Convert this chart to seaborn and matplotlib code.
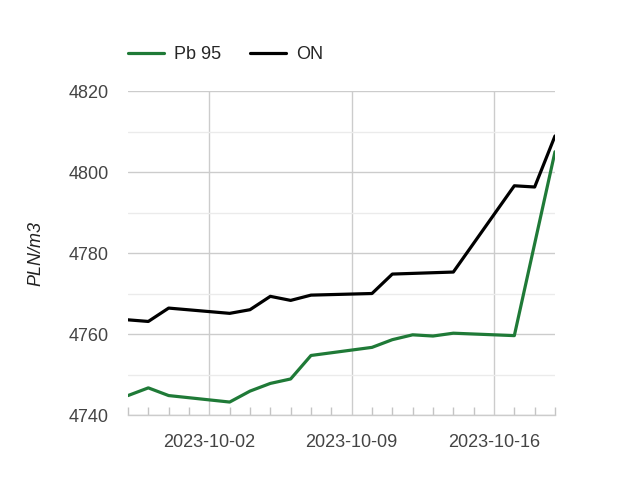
import matplotlib
matplotlib.use("Agg")
import matplotlib.pyplot as plt
import matplotlib.dates as mdates
from matplotlib.ticker import MultipleLocator
import seaborn as sns
import pandas as pd

pb95_dates = ["2023-09-28", "2023-09-29", "2023-09-30", "2023-10-03", "2023-10-04",
              "2023-10-05", "2023-10-06", "2023-10-07", "2023-10-10", "2023-10-11",
              "2023-10-12", "2023-10-13", "2023-10-14", "2023-10-17", "2023-10-19"]
pb95_values = [4744.8, 4746.7, 4744.8, 4743.2, 4745.9,
               4747.8, 4748.9, 4754.7, 4756.7, 4758.6,
               4759.8, 4759.5, 4760.2, 4759.6, 4805.0]

on_dates = ["2023-09-28", "2023-09-29", "2023-09-30", "2023-10-03", "2023-10-04",
            "2023-10-05", "2023-10-06", "2023-10-07", "2023-10-10", "2023-10-11",
            "2023-10-14", "2023-10-17", "2023-10-18", "2023-10-19"]
on_values = [4763.5, 4763.1, 4766.4, 4765.1, 4766.0,
             4769.3, 4768.3, 4769.6, 4770.0, 4774.8,
             4775.3, 4796.6, 4796.3, 4808.9]

series_names = ["Pb 95", "ON"]
series_colors = ["#1f7a37", "#000000"]
x_ticks = ["2023-10-02", "2023-10-09", "2023-10-16"]

df = pd.concat([
    pd.DataFrame({"date": pd.to_datetime(pb95_dates), "value": pb95_values, "fuel": series_names[0]}),
    pd.DataFrame({"date": pd.to_datetime(on_dates), "value": on_values, "fuel": series_names[1]}),
], ignore_index=True)

sns.set_theme(style="white")
plt.rcParams["font.family"] = ["Liberation Sans", "DejaVu Sans"]

fig = plt.figure(figsize=(6.38, 4.79), dpi=100)
ax = fig.add_axes([0.2006, 0.1336, 0.6693, 0.6764])

sns.lineplot(data=df, x="date", y="value", hue="fuel", hue_order=series_names,
             palette=series_colors, linewidth=2.3, ax=ax, legend=True)

ax.set_xlim(pd.Timestamp("2023-09-28"), pd.Timestamp("2023-10-19"))
ax.set_ylim(4740, 4820)
ax.yaxis.set_major_locator(MultipleLocator(20))
ax.yaxis.set_minor_locator(MultipleLocator(10))
ax.set_xticks(pd.to_datetime(x_ticks))
ax.set_xticklabels(x_ticks)
ax.xaxis.set_minor_locator(mdates.DayLocator())

ax.grid(True, which="major", axis="both", color="#cccccc", linewidth=1)
ax.grid(True, which="minor", axis="y", color="#ebebeb", linewidth=1)
ax.set_axisbelow(True)

for s in ["top", "right", "left"]:
    ax.spines[s].set_visible(False)
ax.spines["bottom"].set_color("#cccccc")
ax.spines["bottom"].set_linewidth(1)

ax.tick_params(axis="x", which="major", bottom=True, length=0, labelsize=13, labelcolor="#444444", pad=14)
ax.tick_params(axis="x", which="minor", bottom=True, direction="in", length=6, color="#c4c4c4", width=1)
ax.tick_params(axis="y", which="both", left=False, length=0, labelsize=13, labelcolor="#444444", pad=14)

ax.set_xlabel("")
ax.set_ylabel("PLN/m3", fontsize=13, fontstyle="italic", color="#222222", labelpad=17)

handles, labels = ax.get_legend_handles_labels()
ax.legend(handles, labels, loc="lower left", bbox_to_anchor=(0.0, 1.087), ncol=2,
          frameon=False, fontsize=13, handlelength=2.0, handletextpad=0.55,
          columnspacing=1.6, borderaxespad=0, borderpad=0)
for line in ax.get_legend().get_lines():
    line.set_linewidth(2.3)

fig.savefig("out.png", dpi=100, facecolor="white")
